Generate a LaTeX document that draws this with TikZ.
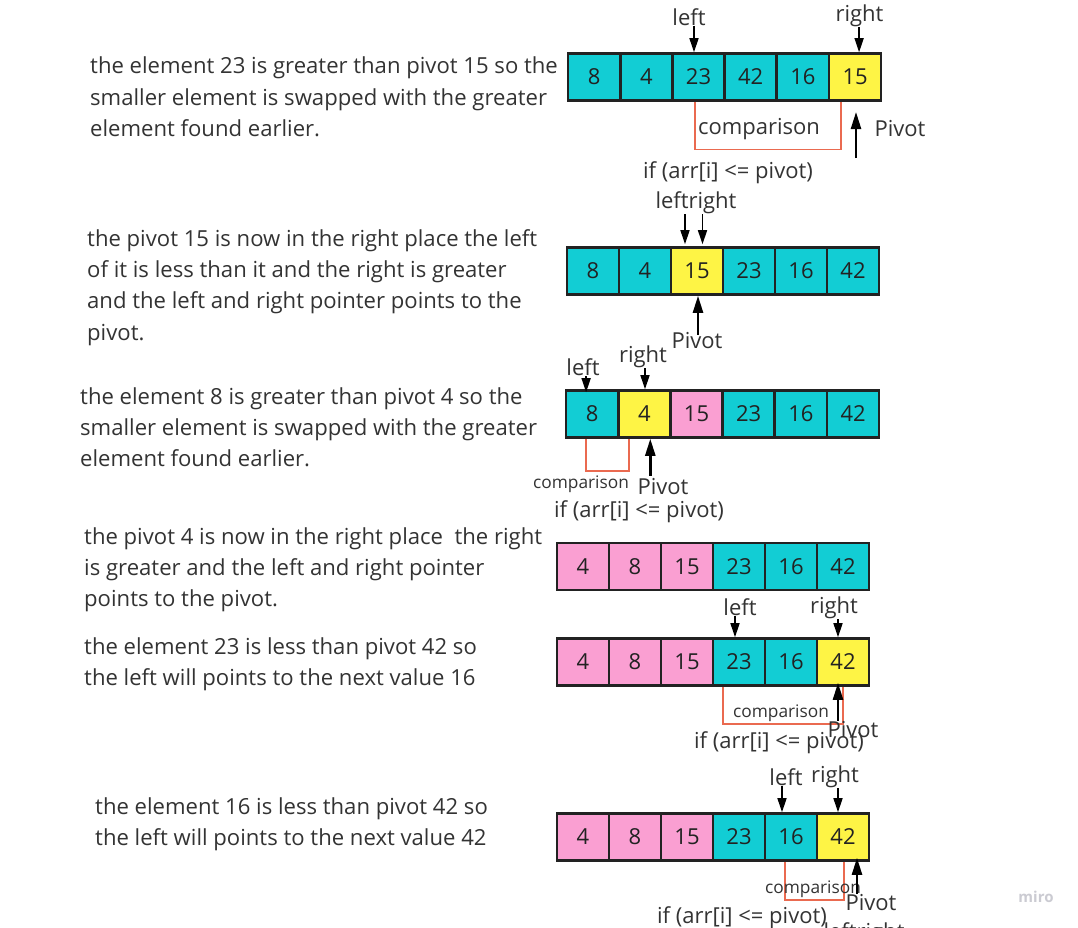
\documentclass[tikz,border=0pt]{standalone}
\usepackage{fontspec}
\setmainfont{Open Sans}
\usetikzlibrary{arrows.meta}
\definecolor{cy}{HTML}{12CDD4}
\definecolor{ye}{HTML}{FEF445}
\definecolor{pk}{HTML}{FA9FD2}
\definecolor{bd}{HTML}{222222}
\definecolor{tx}{HTML}{333333}
\definecolor{rd}{HTML}{EA6A50}
\definecolor{wm}{HTML}{CBCBD2}
\newcommand\mkarr[5]{%
  \foreach[count=\i] \v/\c in {#5}
    \node[cell,fill=\c] (#1\i) at ({#2+(\i-0.5)*#3},#4) {\v};}
\begin{document}
\begin{tikzpicture}[x=1pt,y=-1pt,
  cell/.style={draw=bd,line width=2.6pt,minimum width=52pt,minimum height=47pt,inner sep=0pt,
    font=\fontsize{22}{26}\selectfont,text=bd},
  lbl/.style={inner sep=0pt,font=\fontsize{22}{26}\selectfont,text=tx},
  small/.style={inner sep=0pt,font=\fontsize{17.3}{20}\selectfont,text=tx},
  para/.style={inner sep=0pt,anchor=north west,align=left,
    font=\fontsize{22.1}{31.3}\selectfont,text=tx},
  ptr/.style={-{Triangle[length=14pt,width=9pt]},line width=1.5pt,black},
  piv/.style={-{Triangle[length=17pt,width=10pt]},line width=2.4pt,black},
  cmp/.style={draw=rd,line width=1.6pt}]
\useasboundingbox[fill=white] (0,0) rectangle (1078,927);

% ---------- paragraphs ----------
\node[para] (t1) at (90,57) {the element 23 is greater than pivot 15 so the\\smaller element is swapped with the greater\\element found earlier.};
\node[para] (t2) at (87,229) {the pivot 15 is now in the right place the left\\of it is less than it and the right is greater\\and the left and right pointer points to the\\pivot.};
\node[para] (t3) at (80,387) {the element 8 is greater than pivot 4 so the\\smaller element is swapped with the greater\\element found earlier.};
\node[para] (t4) at (84,527) {the pivot 4 is now in the right place\ \ the right\\is greater and the left and right pointer\\points to the pivot.};
\node[para] (t5) at (84,637) {the element 23 is less than pivot 42 so\\the left will points to the next value 16};
\node[para] (t6) at (95,797) {the element 16 is less than pivot 42 so\\the left will points to the next value 42};

% ---------- comparison brackets (behind cells) ----------
\coordinate (b1a) at (695,100); \coordinate (b1b) at (841,100);
\draw[cmp] (b1a) -- ++(0,49.5) -| (b1b);
\coordinate (b3a) at (586,437); \coordinate (b3b) at (629,437);
\draw[cmp] (b3a) -- ++(0,34) -| (b3b);
\coordinate (b5a) at (723,686); \coordinate (b5b) at (843,686);
\draw[cmp] ([xshift=14pt]b5a) -- (b5a) -- ++(0,38) -| (b5b);
\coordinate (b6a) at (785,861); \coordinate (b6b) at (844,861);
\draw[cmp] ([xshift=4pt]b6a) -- (b6a) -- ++(0,39) -| (b6b);

% ---------- arrays ----------
\mkarr{a}{568}{52.2}{77}{8/cy,4/cy,23/cy,42/cy,16/cy,15/ye}
\mkarr{b}{567}{52}{271}{8/cy,4/cy,15/ye,23/cy,16/cy,42/cy}
\mkarr{c}{566}{52.2}{414}{8/cy,4/ye,15/pk,23/cy,16/cy,42/cy}
\mkarr{d}{557}{52}{566.5}{4/pk,8/pk,15/pk,23/cy,16/cy,42/cy}
\mkarr{e}{557}{52}{662}{4/pk,8/pk,15/pk,23/cy,16/cy,42/ye}
\mkarr{f}{557}{52}{837}{4/pk,8/pk,15/pk,23/cy,16/cy,42/ye}

% ---------- step 1 ----------
\node[lbl] (aL) at (689,17) {left};
\node[lbl] (aR) at (859.5,16) {right};
\path ([xshift=-4.5pt]a3.north) coordinate (aLt) ([xshift=4pt]a6.north) coordinate (aRt);
\draw[ptr] (aLt |- aL.south) -- (aLt);
\draw[ptr] (aRt |- aR.south) -- (aRt);
\node[lbl] (aC) at (759,129) {comparison};
\node[lbl] (aP) at (900,129) {Pivot};
\coordinate (aPt) at (856,158);
\draw[piv] (aPt) -- ++(0,-46);
\node[lbl] (aI) at (728,173) {if (arr[i] <= pivot)};

% ---------- step 2 ----------
\node[lbl] (bLR) at (696,203) {leftright};
\path ([xshift=-12pt]b3.north) coordinate (bLt) ([xshift=5.5pt]b3.north) coordinate (bRt);
\draw[ptr] (bLt |- bLR.south) -- ([yshift=2pt]bLt);
\draw[ptr] (bRt |- bLR.south) -- ([yshift=2pt]bRt);
\node[lbl] (bP) at (697,341) {Pivot};
\path ([xshift=1pt]b3.south) coordinate (bPt);
\draw[piv] ([yshift=-39pt]bPt) -- (bPt);

% ---------- step 3 ----------
\node[lbl] (cL) at (583,367.5) {left};
\node[lbl] (cR) at (643,357) {right};
\path ([xshift=-6pt]c1.north) coordinate (cLt) ([xshift=0.7pt]c2.north) coordinate (cRt);
\draw[ptr] (cLt |- cL.south) -- ([yshift=-3pt]cLt);
\draw[ptr] (cRt |- cR.south) -- (cRt);
\node[small] (cC) at (581,484.5) {comparison};
\node[lbl] (cP) at (663,487) {Pivot};
\path ([xshift=6pt]c2.south) coordinate (cPt);
\draw[piv] ([yshift=-37pt]cPt) -- (cPt);
\node[lbl] (cI) at (639,512) {if (arr[i] <= pivot)};

% ---------- step 5 ----------
\node[lbl] (eL) at (740,607.5) {left};
\node[lbl] (eR) at (834,608) {right};
\path ([xshift=-4pt]e4.north) coordinate (eLt) ([xshift=-5pt]e6.north) coordinate (eRt);
\draw[ptr] (eLt |- eL.south) -- (eLt);
\draw[ptr] (eRt |- eR.south) -- (eRt);
\node[small] (eC) at (781,713) {comparison};
\path ([xshift=-5pt]e6.south) coordinate (ePt);
\draw[piv] ([yshift=-34pt]ePt) -- ([yshift=4pt]ePt);
\node[lbl] (eP) at (853,730) {Pivot};
\node[lbl] (eI) at (779,743) {if (arr[i] <= pivot)};

% ---------- step 6 ----------
\node[lbl] (fL) at (786,777) {left};
\node[lbl] (fR) at (835,777) {right};
\path ([xshift=-9pt]f5.north) coordinate (fLt) ([xshift=-5pt]f6.north) coordinate (fRt);
\draw[ptr] (fLt |- fL.south) -- (fLt);
\draw[ptr] (fRt |- fR.south) -- (fRt);
\node[small] (fC) at (813,889) {comparison};
\path ([xshift=14pt]f6.south) coordinate (fPt);
\draw[piv] ([yshift=-32pt]fPt) -- ([yshift=4pt]fPt);
\node[lbl] (fP) at (871,903) {Pivot};
\node[lbl] (fI) at (742,918) {if (arr[i] <= pivot)};
\node[lbl] (fLR) at (864,934) {leftright};

% ---------- watermark ----------
\node[inner sep=0pt,font=\fontsize{15}{18}\selectfont\bfseries,text=wm] (wm) at (1036,897) {miro};
\end{tikzpicture}
\end{document}
